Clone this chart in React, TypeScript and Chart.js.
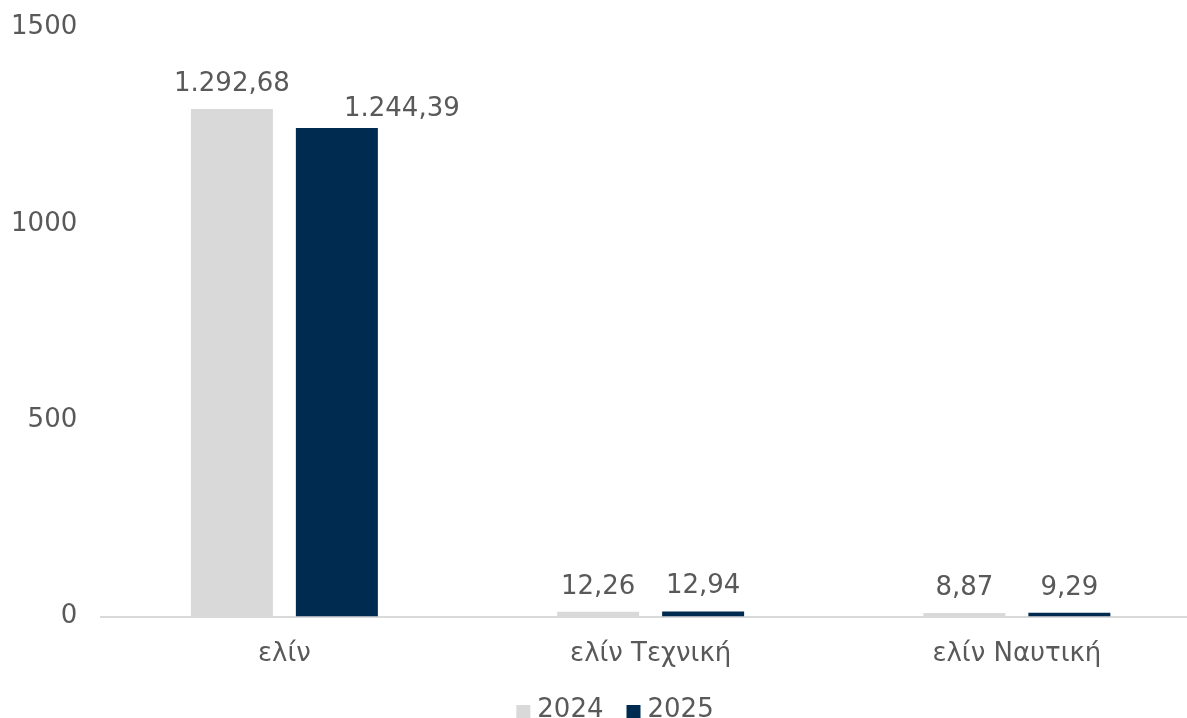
import React, { useEffect, useRef } from "react";
import { Chart, registerables } from "chart.js";

Chart.register(...registerables);

const categories = ["ελίν", "ελίν Τεχνική", "ελίν Ναυτική"];
const seriesNames = ["2024", "2025"];
const values2024 = [1292.68, 12.26, 8.87];
const values2025 = [1244.39, 12.94, 9.29];
const yTicks = [0, 500, 1000, 1500];

const COLORS = ["#D9D9D9", "#002B51"];
const TEXT = "#595959";
const FONT = "DejaVu Sans, Verdana, sans-serif";
const FS = 26;

const CANVAS_W = 1230;
const CANVAS_H = 718;

function fmt(v: number): string {
  const [i, d] = v.toFixed(2).split(".");
  const int = i.replace(/\B(?=(\d{3})+(?!\d))/g, ".");
  return int + "," + d;
}

// label nudges (style only): key = datasetIndex-index
const labelNudge: Record<string, { dx: number; dy: number }> = {
  "1-0": { dx: 65, dy: 6 },
};

const valueLabels = {
  id: "valueLabels",
  afterDatasetsDraw(chart: any) {
    const ctx = chart.ctx;
    ctx.save();
    ctx.font = `${FS}px ${FONT}`;
    ctx.fillStyle = TEXT;
    ctx.textAlign = "center";
    ctx.textBaseline = "alphabetic";
    chart.data.datasets.forEach((ds: any, di: number) => {
      const meta = chart.getDatasetMeta(di);
      meta.data.forEach((el: any, i: number) => {
        const n = labelNudge[`${di}-${i}`] || { dx: 0, dy: 0 };
        ctx.fillText(fmt(ds.data[i]), el.x + n.dx, el.y - 18 + n.dy);
      });
    });
    ctx.restore();
  },
};

const customLegend = {
  id: "customLegend",
  afterDraw(chart: any) {
    const ctx = chart.ctx;
    ctx.save();
    ctx.font = `${FS}px ${FONT}`;
    const box = 14;
    const gap = 7;
    const itemGap = 23;
    const widths = seriesNames.map((s) => ctx.measureText(s).width);
    const total =
      widths.reduce((a, w) => a + box + gap + w, 0) + itemGap * (seriesNames.length - 1);
    let x = chart.width / 2 - total / 2;
    const baseline = 717;
    seriesNames.forEach((s, i) => {
      ctx.fillStyle = COLORS[i];
      ctx.fillRect(x, 705, box, box);
      x += box + gap;
      ctx.fillStyle = TEXT;
      ctx.textAlign = "left";
      ctx.textBaseline = "alphabetic";
      ctx.fillText(s, x, baseline);
      x += widths[i] + itemGap;
    });
    ctx.restore();
  },
};

export default function App() {
  const ref = useRef<HTMLCanvasElement>(null);
  useEffect(() => {
    document.body.style.margin = "0";
    document.body.style.overflow = "hidden";
    const chart = new Chart(ref.current!, {
      type: "bar",
      data: {
        labels: categories,
        datasets: [
          {
            label: seriesNames[0],
            data: values2024,
            backgroundColor: COLORS[0],
            categoryPercentage: 0.5733,
            barPercentage: 0.781,
          },
          {
            label: seriesNames[1],
            data: values2025,
            backgroundColor: COLORS[1],
            categoryPercentage: 0.5733,
            barPercentage: 0.781,
          },
        ],
      },
      options: {
        animation: false,
        responsive: false,
        devicePixelRatio: 1,
        layout: { padding: { left: 0, right: 30, top: 27.6, bottom: 0 } },
        plugins: {
          legend: { display: false },
          tooltip: { enabled: false },
        },
        scales: {
          x: {
            grid: { display: false, drawTicks: false },
            border: { display: true, color: "#D9D9D9", width: 2 },
            ticks: {
              color: TEXT,
              font: { family: FONT, size: FS },
              padding: 22,
              maxRotation: 0,
            },
            afterFit(scale: any) {
              scale.height = CANVAS_H - 616.5;
              scale.paddingLeft = 0;
              scale.paddingRight = 0;
            },
          },
          y: {
            min: 0,
            max: 1500,
            afterBuildTicks(scale: any) {
              scale.ticks = yTicks.map((v) => ({ value: v }));
            },
            grid: { display: false, drawTicks: false },
            border: { display: false },
            ticks: {
              color: TEXT,
              font: { family: FONT, size: FS },
              padding: 24,
              callback: (v: any) => String(v),
            },
            afterFit(scale: any) {
              scale.width = 101.25;
              scale.paddingTop = 0;
              scale.paddingBottom = 0;
            },
          },
        },
      },
      plugins: [valueLabels, customLegend],
    });
    return () => chart.destroy();
  }, []);
  return (
    <div style={{ position: "fixed", left: 0, top: 0, width: 1187, height: 718, overflow: "hidden", background: "#fff" }}>
      <canvas ref={ref} width={CANVAS_W} height={CANVAS_H} style={{ width: CANVAS_W, height: CANVAS_H }} />
    </div>
  );
}
